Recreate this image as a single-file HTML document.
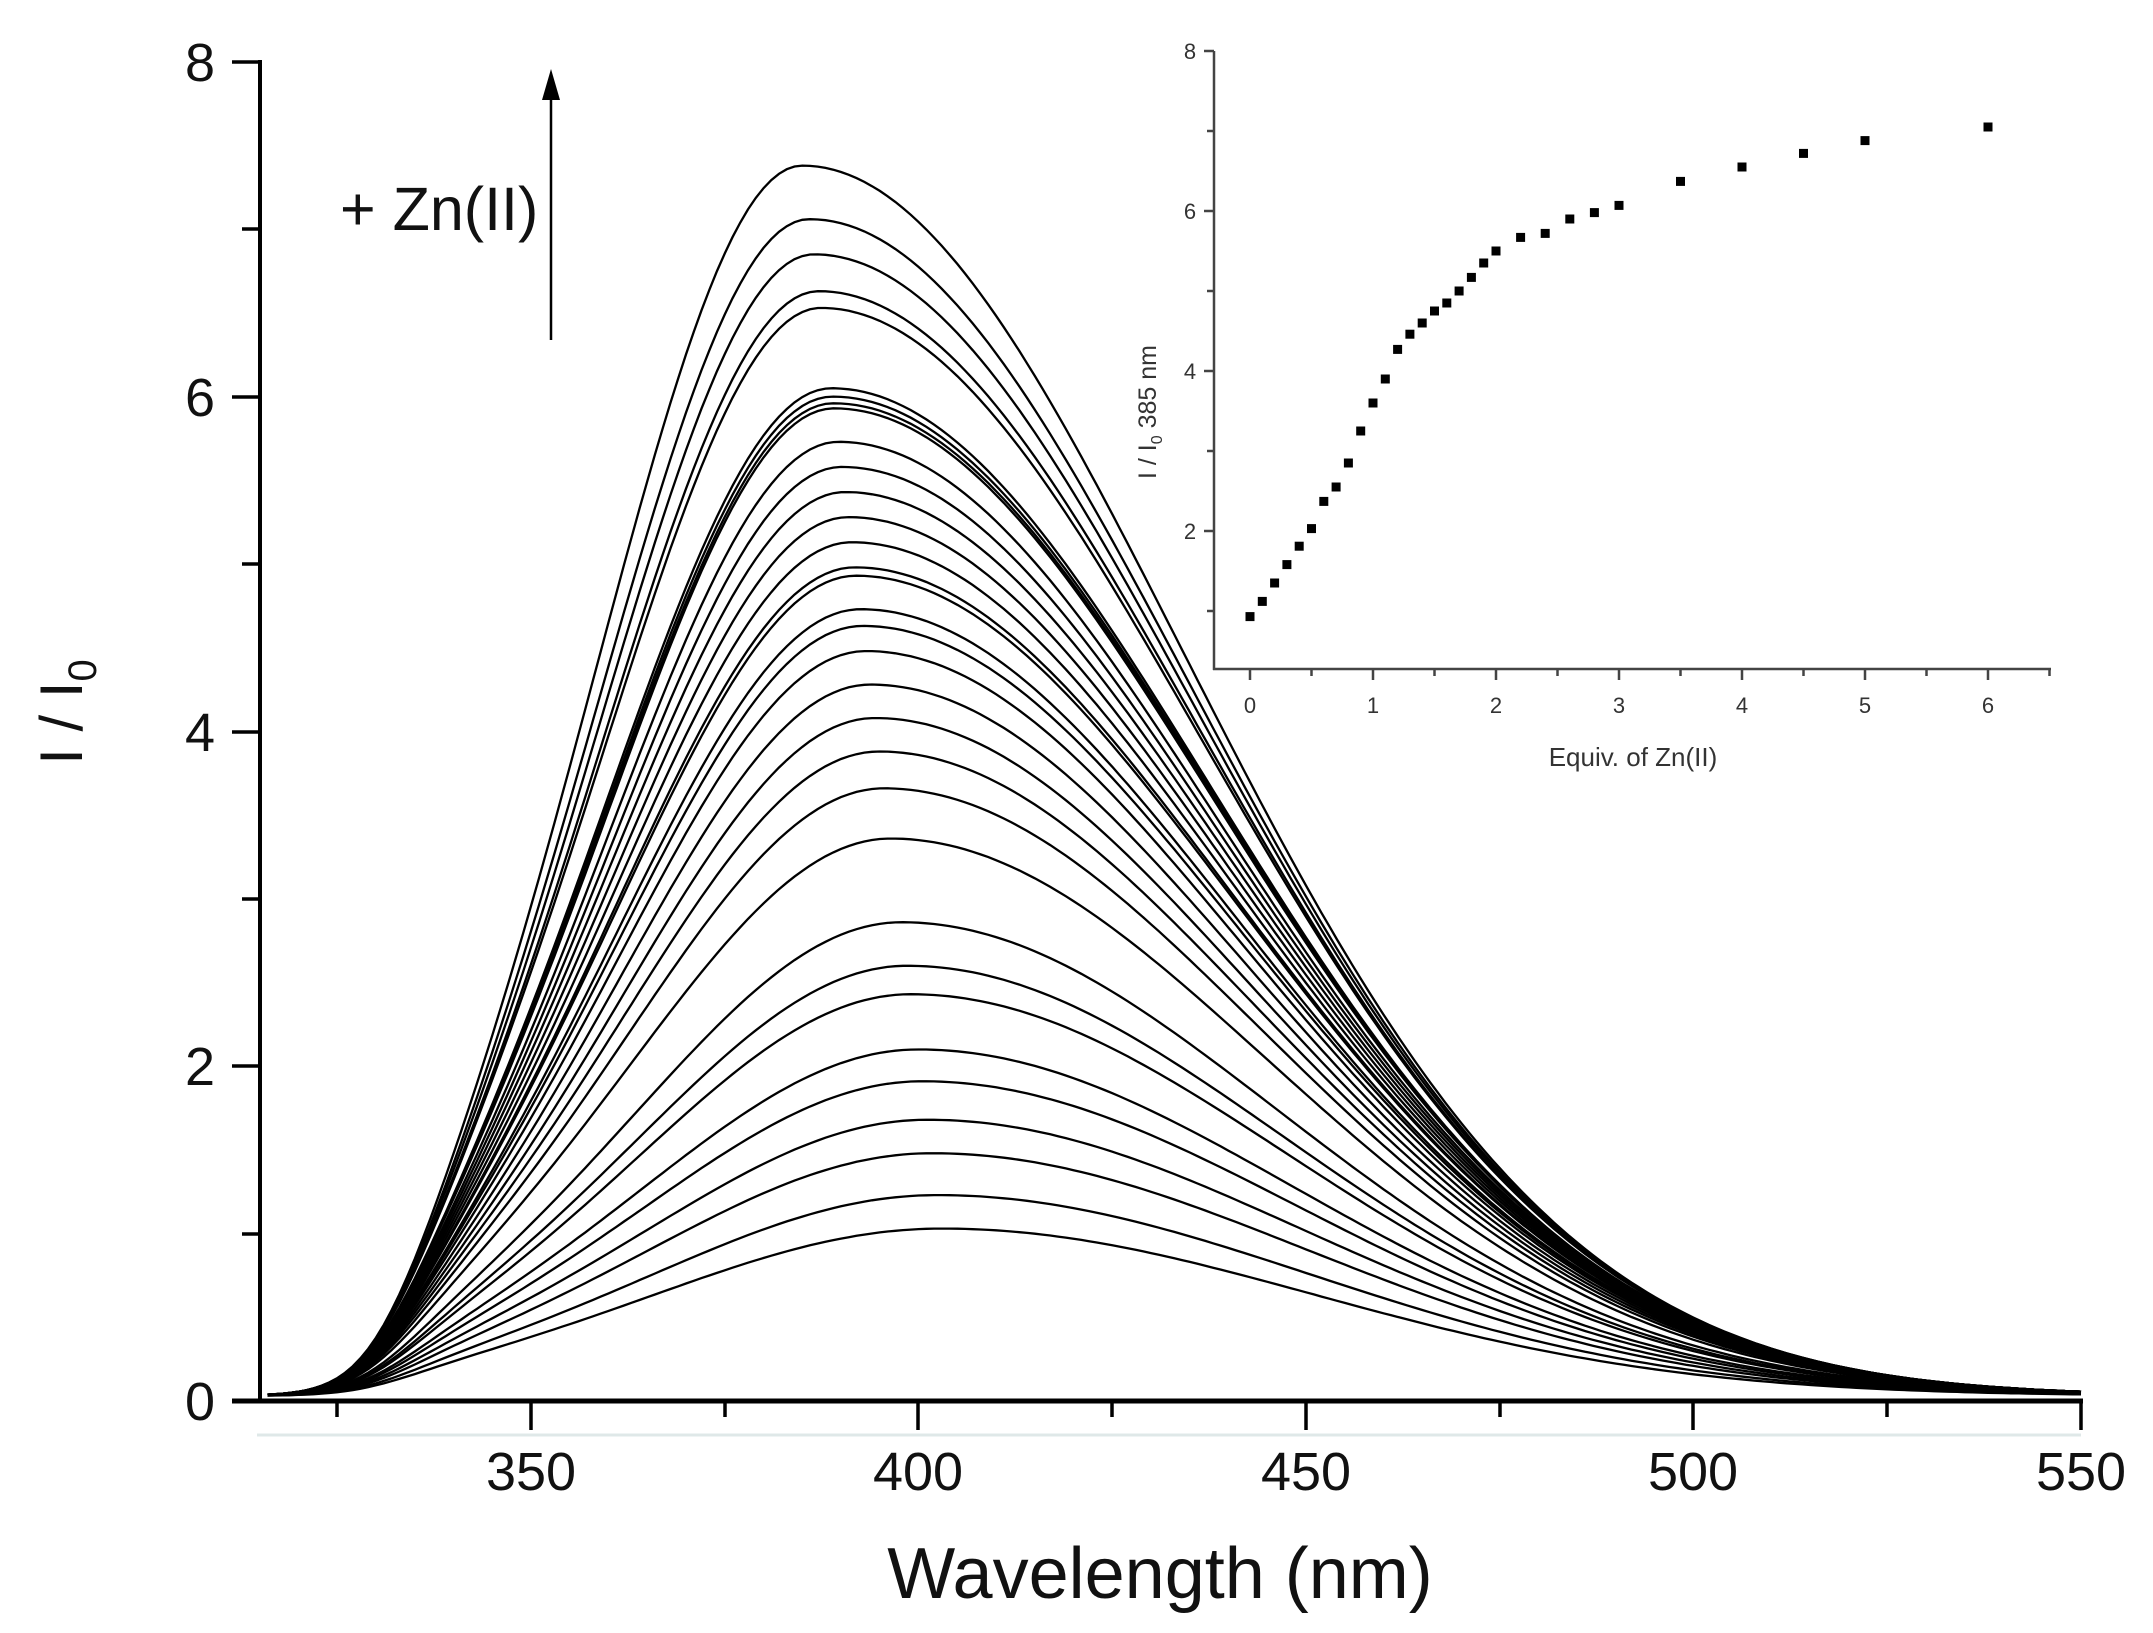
<!DOCTYPE html>
<html><head><meta charset="utf-8"><style>
html,body{margin:0;padding:0;background:#fff;}
svg{display:block;font-family:"Liberation Sans",sans-serif;}
</style></head><body>
<svg id="s" width="2153" height="1633" viewBox="0 0 2153 1633" xmlns="http://www.w3.org/2000/svg">
<rect width="2153" height="1633" fill="#fff"/>
<g id="curves" fill="none" stroke="#000" stroke-width="2.3"></g>
<!-- main axes -->
<line x1="260" y1="60" x2="260" y2="1403" stroke="#000" stroke-width="4"/>
<line x1="232" y1="1401" x2="2083" y2="1401" stroke="#000" stroke-width="5"/>
<line x1="257" y1="1435" x2="2081" y2="1435" stroke="#dfe8e8" stroke-width="3"/>
<g stroke="#000" stroke-width="3.5">
<line x1="232" y1="62" x2="260" y2="62"/><line x1="232" y1="397" x2="260" y2="397"/>
<line x1="232" y1="732" x2="260" y2="732"/><line x1="232" y1="1066" x2="260" y2="1066"/>
<line x1="232" y1="1401" x2="260" y2="1401"/>
<line x1="242" y1="229" x2="260" y2="229"/><line x1="242" y1="564" x2="260" y2="564"/>
<line x1="242" y1="899" x2="260" y2="899"/><line x1="242" y1="1234" x2="260" y2="1234"/>
<line x1="337" y1="1401" x2="337" y2="1417"/><line x1="531" y1="1401" x2="531" y2="1430"/>
<line x1="725" y1="1401" x2="725" y2="1417"/><line x1="918" y1="1401" x2="918" y2="1430"/>
<line x1="1112" y1="1401" x2="1112" y2="1417"/><line x1="1306" y1="1401" x2="1306" y2="1430"/>
<line x1="1500" y1="1401" x2="1500" y2="1417"/><line x1="1693" y1="1401" x2="1693" y2="1430"/>
<line x1="1887" y1="1401" x2="1887" y2="1417"/><line x1="2081" y1="1401" x2="2081" y2="1430"/>
</g>
<g font-size="54" fill="#111" text-anchor="middle">
<text x="200" y="81">8</text><text x="200" y="416">6</text><text x="200" y="751">4</text>
<text x="200" y="1085">2</text><text x="200" y="1420">0</text>
<text x="531" y="1490">350</text><text x="918" y="1490">400</text><text x="1306" y="1490">450</text>
<text x="1693" y="1490">500</text><text x="2081" y="1490">550</text>
</g>
<text x="1160" y="1598" font-size="72" text-anchor="middle" fill="#111">Wavelength (nm)</text>
<text transform="translate(82,712) rotate(-90)" font-size="60" text-anchor="middle" fill="#111">I / I<tspan font-size="40" dy="14">0</tspan></text>
<text x="340" y="230" font-size="61" fill="#111">+ Zn(II)</text>
<line x1="551" y1="340" x2="551" y2="95" stroke="#000" stroke-width="2.5"/>
<polygon points="551,69 542,100 560,100" fill="#000"/>
<!-- inset -->
<g stroke="#444" stroke-width="2.5">
<line x1="1214" y1="51" x2="1214" y2="670"/>
<line x1="1213" y1="669" x2="2051" y2="669"/>
<line x1="1204" y1="51" x2="1214" y2="51"/><line x1="1204" y1="211" x2="1214" y2="211"/>
<line x1="1204" y1="371" x2="1214" y2="371"/><line x1="1204" y1="531" x2="1214" y2="531"/>
<line x1="1207" y1="131" x2="1214" y2="131"/><line x1="1207" y1="291" x2="1214" y2="291"/>
<line x1="1207" y1="451" x2="1214" y2="451"/><line x1="1207" y1="611" x2="1214" y2="611"/>
</g>
<g id="xt" stroke="#444" stroke-width="2.5"></g>
<g font-size="22" fill="#333" text-anchor="middle">
<text x="1190" y="59">8</text><text x="1190" y="219">6</text><text x="1190" y="379">4</text><text x="1190" y="539">2</text>
<text x="1250" y="713">0</text><text x="1373" y="713">1</text><text x="1496" y="713">2</text><text x="1619" y="713">3</text>
<text x="1742" y="713">4</text><text x="1865" y="713">5</text><text x="1988" y="713">6</text>
</g>
<text x="1633" y="766" font-size="26" fill="#333" text-anchor="middle">Equiv. of Zn(II)</text>
<text transform="translate(1156,412) rotate(-90)" font-size="25" fill="#333" text-anchor="middle">I / I<tspan font-size="16" dy="6">0</tspan><tspan dy="-6"> 385 nm</tspan></text>
<g id="pts" fill="#000"></g>
</svg>
<script>
(function(){
var ns="http://www.w3.org/2000/svg";
var H=[7.35,7.03,6.82,6.6,6.5,6.02,5.97,5.93,5.9,5.7,5.55,5.4,5.25,5.1,4.95,4.9,4.7,4.6,4.45,4.25,4.05,3.85,3.63,3.33,2.83,2.57,2.4,2.07,1.88,1.65,1.45,1.2,1.0];
var g=document.getElementById("curves");
function X(l){return 531+(l-350)*7.75;}
function Y(v){return 1401-v*167.4;}
H.forEach(function(h){
 var t=(h-1)/6.35;
 var p=403-18*t, sL=37-11*t, sR=48+1*t;
 var d="";
 for(var l=316;l<=550;l+=1){
  var dl=l-p, s=dl<0?sL:sR;
  var v=h*Math.exp(-dl*dl/(2*s*s))/(1+Math.exp(-(l-331)/4.5));
  v+=0.03;
  d+=(l==316?"M":"L")+X(l).toFixed(1)+","+Y(v).toFixed(1);
 }
 var e=document.createElementNS(ns,"path");e.setAttribute("d",d);g.appendChild(e);
});
var xt=document.getElementById("xt");
for(var i=0;i<=13;i++){var x=1250+61.5*i;var L=document.createElementNS(ns,"line");
L.setAttribute("x1",x);L.setAttribute("x2",x);L.setAttribute("y1",669);L.setAttribute("y2",i%2?676:680);xt.appendChild(L);}
var P=[[0,0.93],[0.1,1.12],[0.2,1.35],[0.3,1.58],[0.4,1.81],[0.5,2.03],[0.6,2.37],[0.7,2.55],[0.8,2.85],[0.9,3.25],[1,3.6],[1.1,3.9],[1.2,4.27],[1.3,4.46],[1.4,4.6],[1.5,4.75],[1.6,4.85],[1.7,5.0],[1.8,5.17],[1.9,5.35],[2,5.5],[2.2,5.67],[2.4,5.72],[2.6,5.9],[2.8,5.98],[3,6.07],[3.5,6.37],[4,6.55],[4.5,6.72],[5,6.88],[6,7.05]];
var pg=document.getElementById("pts");
P.forEach(function(q){var r=document.createElementNS(ns,"rect");
r.setAttribute("x",1250+123*q[0]-4.5);r.setAttribute("y",691-80*q[1]-4.5);r.setAttribute("width",9);r.setAttribute("height",9);pg.appendChild(r);});
})();
</script>
</body></html>
